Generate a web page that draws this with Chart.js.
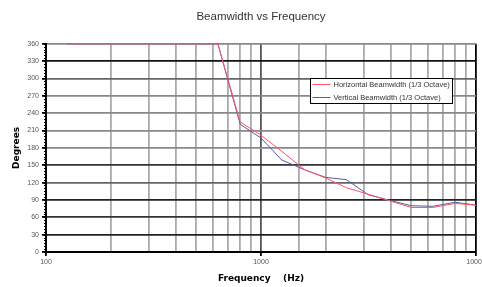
<!DOCTYPE html>
<html>
<head>
<meta charset="utf-8">
<script src="https://cdn.jsdelivr.net/npm/chart.js@4/dist/chart.umd.min.js"></script>
<style>
  html, body { margin: 0; padding: 0; background: #fff; }
  #wrap { width: 482px; height: 287px; }
</style>
</head>
<body>
<div id="wrap"><canvas id="chartCanvas" width="482" height="287"></canvas></div>
<script>
// 1/3 octave centre frequencies (Hz)
const freqs = [125, 160, 200, 250, 315, 400, 500, 630, 800, 1000, 1250, 1600,
    2000, 2500, 3150, 4000, 5000, 6300, 8000, 10000];
const horizontal = [360, 360, 360, 360, 360, 360, 360, 360, 225, 202, 174, 142,
    128, 111, 100, 88, 77, 77, 84, 81];
const vertical = [360, 360, 360, 360, 360, 360, 360, 360, 221, 197, 159, 142,
    129, 125, 99, 89, 80, 79, 86, 81];
const xTickLabels = [100, 1000, 10000];

// horizontal grid colours as they appear in the original
const yGridColors = {
    0: '#000', 30: '#222', 60: '#333', 90: '#222', 120: '#666', 150: '#333',
    180: '#888', 210: '#888', 240: '#888', 270: '#888', 300: '#666', 330: '#111', 360: '#888'
};

function points(ys) {
    return freqs.map((f, i) => ({ x: f, y: ys[i] }));
}

const data = {
    datasets: [
        {
            label: 'Horizontal Beamwidth (1/3 Octave)',
            borderColor: 'rgb(255, 85, 105)',
            backgroundColor: 'rgb(255, 85, 105)',
            data: points(horizontal)
        },
        {
            label: 'Vertical Beamwidth (1/3 Octave)',
            borderColor: 'rgb(90, 90, 155)',
            backgroundColor: 'rgb(90, 90, 155)',
            data: points(vertical)
        }
    ]
};

// legend box drawn inside the plot, like the spreadsheet one
const boxLegend = {
    id: 'boxLegend',
    afterDraw(chart) {
        const ctx = chart.ctx;
        const x = 310.5, y = 78.5, w = 142, h = 25;
        ctx.save();
        ctx.fillStyle = '#fff';
        ctx.fillRect(x, y, w, h);
        ctx.strokeStyle = '#000';
        ctx.lineWidth = 1;
        ctx.strokeRect(x, y, w, h);
        ctx.font = '7.5px "Liberation Sans", Arial, sans-serif';
        ctx.textBaseline = 'middle';
        chart.data.datasets.forEach((ds, i) => {
            const ly = y + 6 + i * 13;
            ctx.strokeStyle = ds.borderColor;
            ctx.beginPath();
            ctx.moveTo(x + 2, ly);
            ctx.lineTo(x + 20, ly);
            ctx.stroke();
            ctx.fillStyle = '#333';
            ctx.fillText(ds.label, x + 23, ly);
        });
        ctx.restore();
    }
};

// small minor ticks on the degrees axis
const minorTicks = {
    id: 'minorTicks',
    afterDraw(chart) {
        const ys = chart.scales.y;
        const ctx = chart.ctx;
        const ax = chart.chartArea.left;
        ctx.save();
        ctx.strokeStyle = '#000';
        ctx.lineWidth = 1;
        ctx.beginPath();
        for (let v = 0; v <= 360; v += 5) {
            const py = Math.round(ys.getPixelForValue(v)) + 0.5;
            ctx.moveTo(ax - 2, py);
            ctx.lineTo(ax + 1, py);
        }
        ctx.stroke();
        ctx.restore();
    }
};

const config = {
    type: 'line',
    data: data,
    options: {
        responsive: false,
        animation: false,
        layout: { padding: { left: 0, right: 6, top: 0, bottom: 0 }, autoPadding: false },
        elements: {
            line: { borderWidth: 1, tension: 0 },
            point: { radius: 0 }
        },
        plugins: {
            legend: { display: false },
            tooltip: { enabled: false },
            title: {
                display: true,
                text: 'Beamwidth vs Frequency',
                fullSize: false,
                color: '#333',
                font: { family: '"Liberation Sans", Arial, sans-serif', size: 11.5, weight: 'normal' },
                padding: { top: 10, bottom: 20 }
            }
        },
        scales: {
            x: {
                type: 'logarithmic',
                min: 100,
                max: 10000,
                afterFit(scale) { scale.height = 35; scale.paddingLeft = 0; scale.paddingRight = 0; },
                border: { color: '#000', width: 2 },
                grid: {
                    lineWidth: 1.8,
                    tickLength: 4,
                    color: ctx => {
                        const v = ctx.tick && ctx.tick.value;
                        if (v === 10000) return '#000';
                        if (v === 1000) return '#555';
                        return '#aaa';
                    },
                    tickColor: ctx => xTickLabels.includes(ctx.tick && ctx.tick.value) ? '#000' : 'rgba(0,0,0,0)'
                },
                ticks: {
                    autoSkip: false,
                    maxRotation: 0,
                    padding: 2,
                    color: '#555',
                    font: { family: '"Liberation Sans", Arial, sans-serif', size: 7 },
                    callback: v => xTickLabels.includes(v) ? String(v) : ''
                },
                title: {
                    display: true,
                    text: 'Frequency    (Hz)',
                    color: '#000',
                    font: { family: '"DejaVu Sans", sans-serif', size: 9, weight: 'bold' },
                    padding: { top: 0, bottom: 3 }
                }
            },
            y: {
                min: 0,
                max: 360,
                afterFit(scale) { scale.width = 46; },
                border: { color: '#000', width: 2 },
                grid: {
                    lineWidth: 1.8,
                    tickLength: 4,
                    color: ctx => yGridColors[ctx.tick && ctx.tick.value] || '#888',
                    tickColor: '#000'
                },
                ticks: {
                    stepSize: 30,
                    padding: 3,
                    color: '#555',
                    font: { family: '"Liberation Sans", Arial, sans-serif', size: 7 }
                },
                title: {
                    display: true,
                    text: 'Degrees',
                    color: '#000',
                    font: { family: '"DejaVu Sans", sans-serif', size: 9, weight: 'bold' },
                    padding: { top: 11, bottom: 0 }
                }
            }
        }
    },
    plugins: [minorTicks, boxLegend]
};

let myChart = new Chart(document.getElementById('chartCanvas'), config);
</script>
</body>
</html>
